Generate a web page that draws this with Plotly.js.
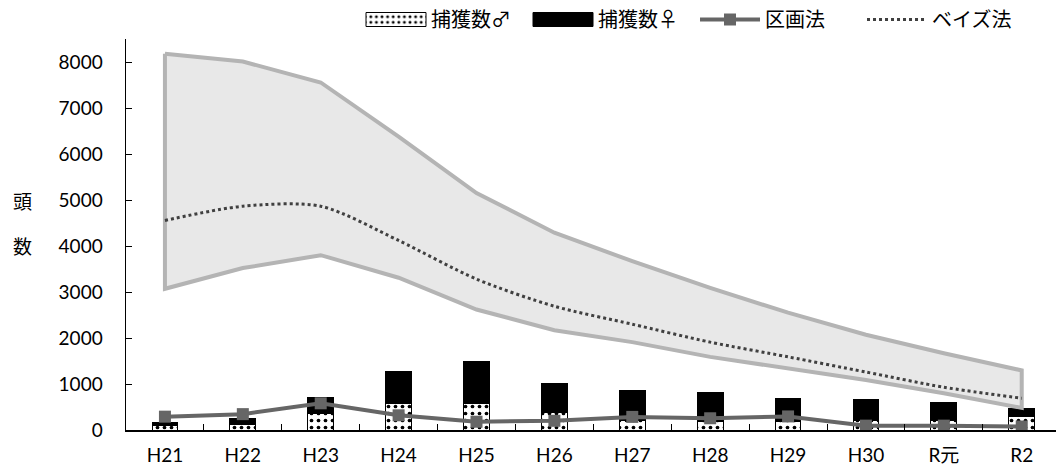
<!DOCTYPE html>
<html>
<head>
<meta charset="utf-8">
<script src="https://cdn.plot.ly/plotly-3.0.1.min.js"></script>
<style>html,body{margin:0;padding:0;background:#fff;}#chart{width:1056px;height:470px;}</style>
</head>
<body>
<div id="chart"></div>
<script>
const years = ['H21','H22','H23','H24','H25','H26','H27','H28','H29','H30','R元','R2'];
const catchMale = [100, 125, 360, 570, 570, 385, 215, 180, 180, 215, 215, 290];
const catchTotal = [160, 240, 700, 1275, 1500, 1015, 865, 820, 688, 670, 590, 468];
const catchFemale = catchTotal.map((t, i) => t - catchMale[i]);
const kukaku = [290, 345, 580, 320, 180, 200, 285, 255, 295, 95, 95, 75];
const bayes = [4555, 4865, 4865, 4120, 3280, 2690, 2300, 1910, 1590, 1260, 930, 690];
const bayesUpper = [8180, 8010, 7555, 6380, 5150, 4290, 3670, 3090, 2550, 2070, 1670, 1295];
const bayesLower = [3070, 3520, 3800, 3310, 2620, 2170, 1910, 1590, 1340, 1085, 800, 480];

const FONT = 'Lato, "Noto Sans CJK JP", sans-serif';
const CJK = '"Noto Sans CJK JP", sans-serif';

const bandX = years.concat(years.slice().reverse(), [years[0]]);
const bandY = bayesUpper.concat(bayesLower.slice().reverse(), [bayesUpper[0]]);

const traces = [
  {type: 'bar', name: '捕獲数♂', x: years, y: catchMale, width: 0.33,
   marker: {color: 'white', line: {color: 'black', width: 1},
            pattern: {shape: '.', fgcolor: 'black', bgcolor: 'white', size: 7, solidity: 0.22}}},
  {type: 'bar', name: '捕獲数♀', x: years, y: catchFemale, width: 0.33,
   marker: {color: 'black', line: {color: 'black', width: 1}}},
  {type: 'scatter', mode: 'lines', x: bandX, y: bandY, fill: 'toself', fillcolor: '#e8e8e8',
   line: {color: '#b4b4b4', width: 4}, showlegend: false, hoverinfo: 'skip'},
  {type: 'scatter', mode: 'lines+markers', name: '区画法', x: years, y: kukaku,
   line: {color: '#666666', width: 4}, marker: {symbol: 'square', size: 12, color: '#666666'}},
  {type: 'scatter', mode: 'lines', name: 'ベイズ法', x: years, y: bayes,
   line: {color: '#404040', width: 3, dash: 'dot', shape: 'spline', smoothing: 0.8}}
];

const layout = {
  width: 1056, height: 470,
  margin: {l: 126, r: 0, t: 38, b: 40},
  paper_bgcolor: 'white', plot_bgcolor: 'white',
  font: {family: FONT, size: 19, color: 'black'},
  barmode: 'stack',
  showlegend: true,
  legend: {orientation: 'h', x: 0.2527, xanchor: 'left', y: 1.0, yanchor: 'bottom',
           itemwidth: 60, entrywidth: 92, entrywidthmode: 'pixels',
           font: {family: CJK, size: 20, color: 'black'}, traceorder: 'normal'},
  xaxis: {type: 'category', range: [-0.5, 11.44], showline: true, linecolor: 'black', linewidth: 1.5,
          ticks: 'inside', ticklen: 6, tickcolor: 'black', tickson: 'boundaries',
          showgrid: false, zeroline: false, ticklabelstandoff: 8,
          tickfont: {family: FONT, size: 19}},
  yaxis: {range: [0, 8500], tickvals: [0,1000,2000,3000,4000,5000,6000,7000,8000],
          showline: true, linecolor: 'black', linewidth: 1.5, ticks: 'inside', ticklen: 6,
          tickcolor: 'black', showgrid: false, zeroline: false, ticklabelstandoff: 18,
          tickfont: {family: FONT, size: 19}},
  annotations: [
    {text: '頭', xref: 'paper', yref: 'paper', x: (22-126)/930, xanchor: 'center', y: (430-200)/392,
     yanchor: 'middle', showarrow: false, font: {family: CJK, size: 19}},
    {text: '数', xref: 'paper', yref: 'paper', x: (22-126)/930, xanchor: 'center', y: (430-245)/392,
     yanchor: 'middle', showarrow: false, font: {family: CJK, size: 19}}
  ]
};

Plotly.newPlot('chart', traces, layout, {displayModeBar: false, staticPlot: true}).then(gd => {
  gd.querySelectorAll('.legend .traces').forEach(g => {
    const cd = g.__data__;
    const tr = cd && cd[0] && cd[0].trace;
    if (tr && tr.type === 'bar') {
      g.querySelectorAll('.legendpoints path').forEach(p => p.setAttribute('d', 'M30,7H-30V-7H30Z'));
    }
  });
});
</script>
</body>
</html>
